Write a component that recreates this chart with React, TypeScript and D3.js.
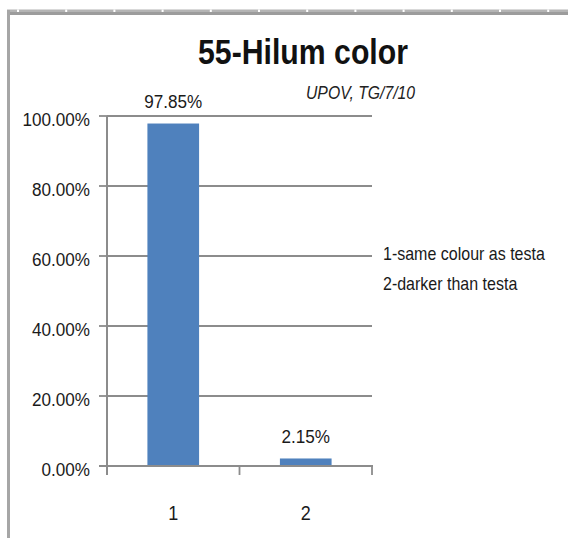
import React from "react";
import * as d3 from "d3";

const categories = ["1", "2"];
const values = [0.9785, 0.0215];
const valueLabels = ["97.85%", "2.15%"];
const yTicks = [0, 0.2, 0.4, 0.6, 0.8, 1.0];
const legendItems = ["1-same colour as testa", "2-darker than testa"];
const title = "55-Hilum color";
const subtitle = "UPOV, TG/7/10";

const W = 568;
const H = 538;
const plot = { left: 107, right: 372, top: 116, bottom: 466 };
const font = "'Liberation Sans', Arial, sans-serif";

function Txt(props: {
  x: number;
  y: number;
  sx: number;
  size: number;
  anchor?: string;
  bold?: boolean;
  italic?: boolean;
  fill?: string;
  children: React.ReactNode;
}) {
  const { x, y, sx, size, anchor, bold, italic, fill, children } = props;
  return (
    <text
      transform={`translate(${x},${y}) scale(${sx},1)`}
      textAnchor={anchor || "start"}
      fontFamily={font}
      fontSize={size}
      fontWeight={bold ? "bold" : "normal"}
      fontStyle={italic ? "italic" : "normal"}
      fill={fill || "#1a1a1a"}
    >
      {children}
    </text>
  );
}

export default function App() {
  const x = d3
    .scaleBand<string>()
    .domain(categories)
    .range([plot.left, plot.right])
    .paddingInner(0.61)
    .paddingOuter(0.305);
  const y = d3.scaleLinear().domain([0, 1]).range([plot.bottom, plot.top]);
  const fmt = d3.format(".2%");
  const step = x.step();
  const catEdges = d3.range(categories.length + 1).map((i) => plot.left + i * step);
  const topNotches = d3.range(0, 12).map((i) => 17 + i * 48.2);
  const axisColor = "#8c8c8c";

  return (
    <svg
      width={W}
      height={H}
      style={{ position: "absolute", left: 0, top: 0, background: "#fff" }}
    >
      {/* frame */}
      <rect x={7} y={9.5} width={W - 7} height={5.5} fill="#b4b4b4" />
      <rect x={7} y={12} width={W - 7} height={3} fill="#9c9c9c" />
      {topNotches.map((nx, i) => (
        <rect key={i} x={nx} y={9.5} width={2} height={2.5} fill="#fff" />
      ))}
      <rect x={7} y={10} width={3} height={H - 10} fill="#a6a6a6" />

      {/* title */}
      <Txt x={303} y={64} sx={0.84} size={36} anchor="middle" bold fill="#111">
        {title}
      </Txt>
      <Txt x={306} y={99} sx={0.83} size={19} italic fill="#222">
        {subtitle}
      </Txt>

      {/* gridlines */}
      {yTicks.slice(1).map((t) => (
        <line
          key={t}
          x1={plot.left}
          x2={plot.right}
          y1={y(t)}
          y2={y(t)}
          stroke={axisColor}
          strokeWidth={1.8}
        />
      ))}

      {/* bars */}
      {categories.map((c, i) => (
        <rect
          key={c}
          x={x(c)}
          y={y(values[i])}
          width={x.bandwidth()}
          height={y(0) - y(values[i])}
          fill="#4f81bd"
        />
      ))}

      {/* axes */}
      <line x1={plot.left} x2={plot.left} y1={plot.top} y2={plot.bottom + 9} stroke={axisColor} strokeWidth={2} />
      <line x1={plot.left - 8} x2={plot.right + 1} y1={plot.bottom} y2={plot.bottom} stroke={axisColor} strokeWidth={2} />
      {yTicks.map((t) => (
        <line key={t} x1={plot.left - 8} x2={plot.left} y1={y(t)} y2={y(t)} stroke={axisColor} strokeWidth={1.8} />
      ))}
      {catEdges.map((ex, i) => (
        <line key={i} x1={ex} x2={ex} y1={plot.bottom} y2={plot.bottom + 9} stroke={axisColor} strokeWidth={1.8} />
      ))}

      {/* y tick labels */}
      {yTicks.map((t) => (
        <Txt key={t} x={90} y={y(t) + 10} sx={0.9} size={19} anchor="end">
          {fmt(t)}
        </Txt>
      ))}

      {/* x tick labels */}
      {categories.map((c) => (
        <Txt
          key={c}
          x={(x(c) as number) + x.bandwidth() / 2}
          y={520}
          sx={0.9}
          size={20}
          anchor="middle"
        >
          {c}
        </Txt>
      ))}

      {/* value labels */}
      {categories.map((c, i) => (
        <Txt
          key={c}
          x={(x(c) as number) + x.bandwidth() / 2}
          y={y(values[i]) - 15.5}
          sx={0.9}
          size={19}
          anchor="middle"
        >
          {valueLabels[i]}
        </Txt>
      ))}

      {/* legend */}
      {legendItems.map((l, i) => (
        <Txt key={l} x={383} y={260 + i * 30} sx={0.89} size={18}>
          {l}
        </Txt>
      ))}
    </svg>
  );
}
